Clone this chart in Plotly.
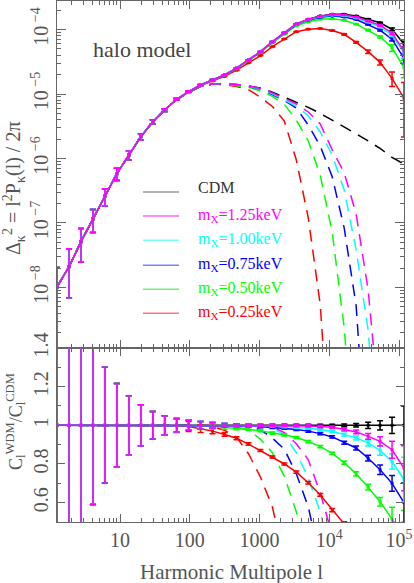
import numpy as np
import plotly.graph_objects as go

# ---------------- data ----------------
ell = [1.25, 1.86, 2.76, 4.09, 6.07, 9.01, 13.4, 19.9, 29.5, 43.7, 64.9, 96.4, 143, 212, 315,
       468, 694, 1030, 1529, 2270, 3369, 5000, 7421, 11015, 16350, 24267, 36020, 53460, 79350, 117770]

# total convergence power spectrum (solid) for CDM
cdm_total = [1.02e-8, 2.10e-8, 5.13e-8, 1.15e-7, 2.62e-7, 5.81e-7, 1.13e-6, 2.18e-6, 3.72e-6, 5.65e-6,
             8.28e-6, 1.09e-5, 1.38e-5, 1.65e-5, 1.97e-5, 2.51e-5, 3.37e-5, 4.53e-5, 6.47e-5, 8.92e-5,
             1.22e-4, 1.44e-4, 1.62e-4, 1.72e-4, 1.72e-4, 1.62e-4, 1.44e-4, 1.27e-4, 1.01e-4, 5.96e-5]

# dashed (two-halo) spectra, top panel
cdm_2h = [1.02e-8, 2.10e-8, 5.13e-8, 1.15e-7, 2.62e-7, 5.81e-7, 1.13e-6, 2.18e-6, 3.72e-6, 5.65e-6,
          8.2e-6, 1.06e-5, 1.31e-5, 1.43e-5, 1.44e-5, 1.41e-5, 1.33e-5, 1.24e-5, 1.07e-5, 8.98e-6,
          7.5e-6, 6.2e-6, 5.0e-6, 3.93e-6, 3.16e-6, 2.42e-6, 1.87e-6, 1.43e-6, 1.04e-6, 8.2e-7]
m125_2h = [1.02e-8, 2.10e-8, 5.13e-8, 1.15e-7, 2.62e-7, 5.81e-7, 1.13e-6, 2.18e-6, 3.72e-6, 5.65e-6,
           8.2e-6, 1.06e-5, 1.31e-5, 1.43e-5, 1.44e-5, 1.41e-5, 1.33e-5, 1.22e-5, 1.04e-5, 8.5e-6,
           7.0e-6, 5.26e-6, 3.43e-6, 1.36e-6, 6.0e-7, 1.38e-7, 9.2e-9, 1e-10, 1e-12, 1e-12]
m100_2h = [1.02e-8, 2.10e-8, 5.13e-8, 1.15e-7, 2.62e-7, 5.81e-7, 1.13e-6, 2.18e-6, 3.72e-6, 5.65e-6,
           8.2e-6, 1.06e-5, 1.31e-5, 1.43e-5, 1.44e-5, 1.41e-5, 1.32e-5, 1.20e-5, 1.01e-5, 8.2e-6,
           6.5e-6, 4.6e-6, 2.58e-6, 1.13e-6, 3.25e-7, 3.8e-8, 2.2e-9, 1e-11, 1e-12, 1e-12]
m075_2h = [1.02e-8, 2.10e-8, 5.13e-8, 1.15e-7, 2.62e-7, 5.81e-7, 1.13e-6, 2.18e-6, 3.72e-6, 5.65e-6,
           8.2e-6, 1.06e-5, 1.31e-5, 1.43e-5, 1.44e-5, 1.41e-5, 1.31e-5, 1.18e-5, 9.8e-6, 7.9e-6,
           6.07e-6, 3.3e-6, 1.56e-6, 5.2e-7, 8.4e-8, 5.2e-9, 1e-11, 1e-12, 1e-12, 1e-12]
m050_2h = [1.02e-8, 2.10e-8, 5.13e-8, 1.15e-7, 2.62e-7, 5.81e-7, 1.13e-6, 2.18e-6, 3.72e-6, 5.65e-6,
           8.2e-6, 1.06e-5, 1.31e-5, 1.43e-5, 1.44e-5, 1.37e-5, 1.27e-5, 1.12e-5, 9.2e-6, 6.9e-6,
           3.95e-6, 1.87e-6, 5.5e-7, 7.2e-8, 2.4e-9, 1e-11, 1e-12, 1e-12, 1e-12, 1e-12]
m025_2h = [1.02e-8, 2.10e-8, 5.13e-8, 1.15e-7, 2.62e-7, 5.81e-7, 1.13e-6, 2.18e-6, 3.72e-6, 5.65e-6,
           8.2e-6, 1.06e-5, 1.31e-5, 1.43e-5, 1.40e-5, 1.31e-5, 1.17e-5, 8.9e-6, 6.4e-6, 3.8e-6,
           9.5e-7, 1.2e-7, 5.4e-9, 1e-11, 1e-12, 1e-12, 1e-12, 1e-12, 1e-12, 1e-12]

# ratio C_l^WDM / C_l^CDM of the total spectra (solid lines, bottom panel)
ratio_cdm = [1.0] * 30
ratio_m125 = [1, 1, 1, 1, 1, 1, 1, 1, 1, 1, 1, 1, 1, 1, 1, 1, 1, 1, 1, 1,
              0.998, 0.997, 0.994, 0.99, 0.978, 0.966, 0.943, 0.917, 0.874, 0.778]
ratio_m100 = [1, 1, 1, 1, 1, 1, 1, 1, 1, 1, 1, 1, 1, 1, 1, 1, 1, 1, 0.997, 0.994,
              0.99, 0.985, 0.978, 0.969, 0.952, 0.935, 0.909, 0.87, 0.813, 0.72]
ratio_m075 = [1, 1, 1, 1, 1, 1, 1, 1, 1, 1, 1, 1, 1, 1, 1, 1, 0.997, 0.994, 0.99, 0.985,
              0.979, 0.97, 0.957, 0.94, 0.91, 0.883, 0.83, 0.77, 0.70, 0.60]
ratio_m050 = [1, 1, 1, 1, 1, 1, 1, 1, 1, 1, 1, 1, 0.998, 0.995, 0.99, 0.985, 0.98, 0.972, 0.96, 0.951,
              0.937, 0.916, 0.89, 0.855, 0.807, 0.749, 0.68, 0.605, 0.515, 0.43]
ratio_m025 = [1, 1, 1, 1, 1, 1, 1, 1, 1, 1, 0.998, 0.994, 0.983, 0.97, 0.953, 0.933, 0.903, 0.87, 0.836, 0.80,
              0.758, 0.703, 0.64, 0.562, 0.49, 0.39, 0.315, 0.244, 0.173, 0.145]

# ratio of the two-halo terms (dashed lines, bottom panel)
dratio_m125 = [1, 1, 1, 1, 1, 1, 1, 1, 1, 1, 1, 1, 1, 1, 1, 1, 1, 0.998, 0.993, 0.962,
               0.905, 0.822, 0.65, 0.43, 0.2, 0.0, 0.0, 0.0, 0.0, 0.0]
dratio_m100 = [1, 1, 1, 1, 1, 1, 1, 1, 1, 1, 1, 1, 1, 1, 1, 1, 0.998, 0.995, 0.985, 0.952,
               0.858, 0.728, 0.551, 0.3, 0.0, 0.0, 0.0, 0.0, 0.0, 0.0]
dratio_m075 = [1, 1, 1, 1, 1, 1, 1, 1, 1, 1, 1, 1, 1, 1, 1, 0.998, 0.993, 0.978, 0.934, 0.876,
               0.749, 0.578, 0.3, 0.0, 0.0, 0.0, 0.0, 0.0, 0.0, 0.0]
dratio_m050 = [1, 1, 1, 1, 1, 1, 1, 1, 1, 1, 1, 1, 1, 1, 0.998, 0.992, 0.978, 0.928, 0.858, 0.736,
               0.552, 0.3, 0.0, 0.0, 0.0, 0.0, 0.0, 0.0, 0.0, 0.0]
dratio_m025 = [1, 1, 1, 1, 1, 1, 1, 1, 1, 1, 1, 1, 0.999, 0.993, 0.975, 0.939, 0.853, 0.733, 0.578, 0.3,
               0.0, 0.0, 0.0, 0.0, 0.0, 0.0, 0.0, 0.0, 0.0, 0.0]

# fractional 1-sigma errors
frac_cdm = [1.0, 0.9, 0.6, 0.41, 0.30, 0.216, 0.153, 0.107, 0.072, 0.05, 0.035, 0.026, 0.02, 0.014, 0.01,
            0.008, 0.007, 0.006, 0.006, 0.006, 0.006, 0.006, 0.006, 0.006, 0.007, 0.009, 0.016, 0.024, 0.042, 0.10]
frac_m125 = [1.0, 0.9, 0.6, 0.41, 0.30, 0.216, 0.153, 0.107, 0.072, 0.05, 0.035, 0.026, 0.02, 0.014, 0.01,
             0.008, 0.007, 0.006, 0.006, 0.006, 0.006, 0.006, 0.006, 0.006, 0.007, 0.01, 0.016, 0.026, 0.05, 0.15]
frac_m100 = [1.0, 0.9, 0.6, 0.41, 0.30, 0.216, 0.153, 0.107, 0.072, 0.05, 0.035, 0.026, 0.02, 0.014, 0.01,
             0.008, 0.007, 0.006, 0.006, 0.006, 0.006, 0.006, 0.006, 0.006, 0.008, 0.011, 0.017, 0.028, 0.05, 0.16]
frac_m075 = [1.0, 0.9, 0.6, 0.41, 0.30, 0.216, 0.153, 0.107, 0.072, 0.05, 0.035, 0.026, 0.02, 0.014, 0.01,
             0.008, 0.007, 0.006, 0.006, 0.006, 0.006, 0.006, 0.006, 0.006, 0.009, 0.012, 0.018, 0.032, 0.058, 0.17]
frac_m050 = [1.0, 0.9, 0.6, 0.41, 0.30, 0.216, 0.153, 0.107, 0.072, 0.05, 0.035, 0.026, 0.02, 0.014, 0.01,
             0.008, 0.007, 0.006, 0.006, 0.006, 0.006, 0.006, 0.006, 0.007, 0.01, 0.014, 0.022, 0.036, 0.12, 0.30]
frac_m025 = [1.0, 0.9, 0.6, 0.41, 0.30, 0.216, 0.153, 0.107, 0.072, 0.05, 0.035, 0.026, 0.02, 0.014, 0.01,
             0.008, 0.007, 0.006, 0.006, 0.006, 0.007, 0.009, 0.011, 0.015, 0.022, 0.035, 0.06, 0.09, 0.25, 0.75]
# lower error-bar fractions in the top panel at the four lowest multipoles
top_minus_lowl = [1.0, 0.67, 0.52, 0.38]

labels = ["CDM", "m<sub>X</sub>=1.25keV", "m<sub>X</sub>=1.00keV", "m<sub>X</sub>=0.75keV",
          "m<sub>X</sub>=0.50keV", "m<sub>X</sub>=0.25keV"]
x_tick_vals = [10, 100, 1000, 1e4, 1e5]
x_tick_text = ["10", "100", "1000", "10<sup>4</sup>", "10<sup>5</sup>"]
y_tick_vals = [1e-8, 1e-7, 1e-6, 1e-5, 1e-4]
y_tick_text = ["10<sup> −8</sup>", "10<sup> −7</sup>", "10<sup> −6</sup>", "10<sup> −5</sup>", "10<sup> −4</sup>"]
r_tick_vals = [0.6, 0.8, 1.0, 1.2, 1.4]
r_tick_text = ["0.6", "0.8", "1", "1.2", "1.4"]

# ---------------- styling ----------------
COLORS = ["#000000", "#ff00ff", "#00ffff", "#0000ff", "#00ff00", "#ff0000"]
LEG_COLORS = ["#999999", "#ff66ff", "#77ffff", "#8080ff", "#77ee77", "#ff7777"]
FONT = "Liberation Serif"
AX = "#666666"
DASH = "12px,8px"

ratios = [ratio_cdm, ratio_m125, ratio_m100, ratio_m075, ratio_m050, ratio_m025]
dashed = [cdm_2h, m125_2h, m100_2h, m075_2h, m050_2h, m025_2h]
dratios = [None, dratio_m125, dratio_m100, dratio_m075, dratio_m050, dratio_m025]
fracs = [frac_cdm, frac_m125, frac_m100, frac_m075, frac_m050, frac_m025]

cdm_a = np.array(cdm_total)

fig = go.Figure()
draw_order = [0, 5, 4, 3, 2, 1]

for k in draw_order:
    fig.add_trace(go.Scatter(x=ell, y=dashed[k], mode="lines", xaxis="x", yaxis="y",
                             line=dict(color=COLORS[k], width=1.5, dash=DASH),
                             showlegend=False, hoverinfo="skip"))
for k in draw_order:
    if dratios[k] is None:
        continue
    fig.add_trace(go.Scatter(x=ell, y=dratios[k], mode="lines", xaxis="x2", yaxis="y2",
                             line=dict(color=COLORS[k], width=1.5, dash=DASH),
                             showlegend=False, hoverinfo="skip"))

for k in draw_order:
    r = np.array(ratios[k])
    f = np.array(fracs[k])
    f_minus = f.copy()
    f_minus[:len(top_minus_lowl)] = top_minus_lowl
    tot = cdm_a * r
    fig.add_trace(go.Scatter(x=ell, y=tot, mode="lines+markers", xaxis="x", yaxis="y",
                             line=dict(color=COLORS[k], width=1.5),
                             marker=dict(color=COLORS[k], size=3, symbol="square"),
                             error_y=dict(type="data", array=tot * f, arrayminus=tot * f_minus,
                                          color=COLORS[k], thickness=1.5, width=3),
                             showlegend=False, hoverinfo="skip"))
    fig.add_trace(go.Scatter(x=ell, y=r, mode="lines+markers", xaxis="x2", yaxis="y2",
                             line=dict(color=COLORS[k], width=1.5),
                             marker=dict(color=COLORS[k], size=3, symbol="square"),
                             error_y=dict(type="data", array=r * f, color=COLORS[k],
                                          thickness=1.5, width=3),
                             showlegend=False, hoverinfo="skip"))

# ---------------- axes ----------------
lo, hi = np.log10(1.25), np.log10(117770)
minor_x = [m * 10.0 ** d for d in range(0, 6) for m in range(2, 10)]
minor_y = [m * 10.0 ** d for d in range(-10, -3) for m in range(2, 10)]
TICKFONT = dict(family=FONT, size=20, color="#555555")

common_x = dict(type="log", range=[lo, hi], ticks="inside", ticklen=8, tickwidth=1, tickcolor=AX,
                mirror="allticks", showline=True, linecolor=AX, linewidth=1, showgrid=False,
                zeroline=False, tickvals=x_tick_vals, ticktext=x_tick_text, automargin=False,
                minor=dict(tickvals=minor_x, ticks="inside", ticklen=4, tickcolor=AX, showgrid=False),
                tickfont=TICKFONT)

fig.update_layout(
    template="none",
    width=414, height=583,
    margin=dict(l=57, r=10, t=1, b=61, autoexpand=False),
    paper_bgcolor="white", plot_bgcolor="white",
    showlegend=False,
    xaxis=dict(common_x, anchor="y", domain=[0, 1], showticklabels=False),
    xaxis2=dict(common_x, anchor="y2", domain=[0, 1], matches="x", showticklabels=True),
    yaxis=dict(type="log", domain=[0.334, 1], anchor="x", range=[-8.938, -3.558],
               tickvals=y_tick_vals, ticktext=y_tick_text, tickangle=-90, automargin=False,
               ticks="inside", ticklen=9, tickcolor=AX, mirror="allticks", showline=True,
               linecolor=AX, showgrid=False, zeroline=False,
               minor=dict(tickvals=minor_y, ticks="inside", ticklen=4, tickcolor=AX, showgrid=False),
               tickfont=TICKFONT),
    yaxis2=dict(domain=[0, 0.334], anchor="x2", range=[0.5, 1.4], automargin=False,
                tickvals=r_tick_vals, ticktext=r_tick_text, tickangle=-90,
                ticks="inside", ticklen=8, tickcolor=AX, mirror="allticks", showline=True,
                linecolor=AX, showgrid=False, zeroline=False,
                minor=dict(dtick=0.1, ticks="inside", ticklen=4, tickcolor=AX, showgrid=False),
                tickfont=TICKFONT),
)

# ---------------- annotations / legend ----------------
W, H = 347.0, 521.0


def px(x):
    return (x - 57) / W


def py(y):
    return 1 - (y - 1) / H


ann = []
ann.append(dict(x=px(91), y=py(49), xref="paper", yref="paper", text="halo model",
                showarrow=False, xanchor="left", yanchor="middle",
                font=dict(family=FONT, size=22, color="#444444")))
ann.append(dict(x=px(231), y=py(572), xref="paper", yref="paper", text="Harmonic Multipole l",
                showarrow=False, xanchor="center", yanchor="middle",
                font=dict(family=FONT, size=21, color="#555555")))
ann.append(dict(x=px(14), y=py(188), xref="paper", yref="paper",
                text="Δ<sub>κ</sub><sup>2</sup> = l<sup>2</sup>P<sub>κ</sub>(l) / 2π",
                showarrow=False, textangle=-90, xanchor="center", yanchor="middle",
                font=dict(family=FONT, size=20, color="#555555")))
ann.append(dict(x=px(15), y=py(422), xref="paper", yref="paper",
                text="C<sub>l</sub><sup>WDM</sup>/C<sub>l</sub><sup>CDM</sup>",
                showarrow=False, textangle=-90, xanchor="center", yanchor="middle",
                font=dict(family=FONT, size=18, color="#555555")))

leg_line_y = [192, 216, 240.3, 265.3, 289.3, 313.3]
shapes = []
for i, (lab, ly) in enumerate(zip(labels, leg_line_y)):
    shapes.append(dict(type="line", xref="paper", yref="paper", x0=px(143), x1=px(179),
                       y0=py(ly), y1=py(ly), line=dict(color=LEG_COLORS[i], width=1.5)))
    ty = ly - 4 if i == 0 else ly - 1
    ann.append(dict(x=px(196), y=py(ty), xref="paper", yref="paper", text=lab,
                    showarrow=False, xanchor="left", yanchor="middle",
                    font=dict(family=FONT, size=16, color="#333333" if i == 0 else COLORS[i])))

fig.update_layout(annotations=ann, shapes=shapes)
fig.write_html("out.html", config={"displayModeBar": False},
               post_script="document.body.style.margin='0px';")
